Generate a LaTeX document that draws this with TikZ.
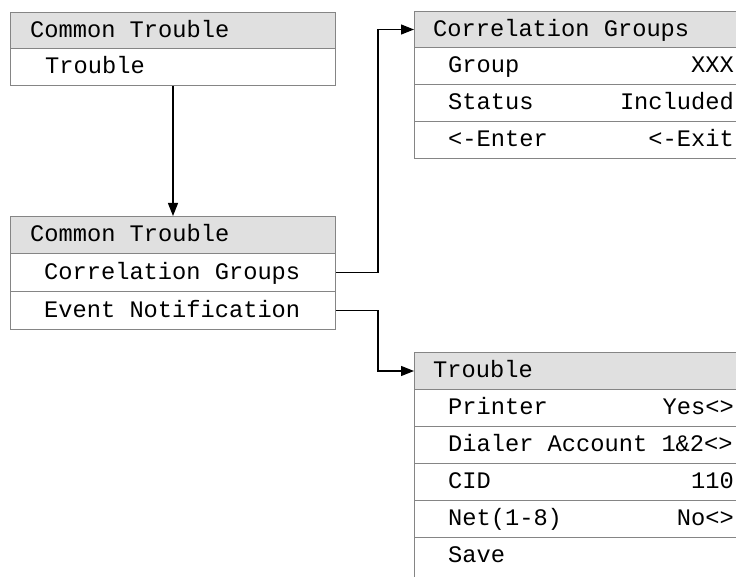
\documentclass[tikz,border=0pt]{standalone}
\usepackage{fontspec}
\newfontfamily\mono{Liberation Mono}
\usetikzlibrary{arrows.meta}
\definecolor{hdrfill}{HTML}{E0E0E0}
\definecolor{bord}{HTML}{858585}
\begin{document}
\begin{tikzpicture}[x=1pt,y=-1pt,
  rowbox/.style={draw=bord, line width=1pt, anchor=north west, minimum width=#1, inner sep=0pt, fill=white},
  hdrrow/.style={rowbox=#1, fill=hdrfill},
  lbl/.style={anchor=west, inner sep=0pt, text height=13.5pt, text depth=0pt, font=\mono\fontsize{23.7}{28}\selectfont},
  val/.style={lbl, anchor=east},
  conn/.style={line width=1.3pt, -{Triangle[length=13pt,width=10pt]}}]
\useasboundingbox (0,0) rectangle (736,577);
% Box 1
\node[hdrrow=325pt, minimum height=36pt] (b1h) at (10,12) {};
\node[rowbox=325pt, minimum height=37pt] (b1r1) at (10,48) {};
\node[lbl] (t1h) at ([xshift=20pt]b1h.west) {Common Trouble};
\node[lbl] (t1r1) at ([xshift=35pt]b1r1.west) {Trouble};
% Box 2
\node[hdrrow=331pt, minimum height=36pt] (b2h) at (414,11) {};
\node[rowbox=331pt, minimum height=37pt] (b2r1) at (414,47) {};
\node[rowbox=331pt, minimum height=37pt] (b2r2) at (414,84) {};
\node[rowbox=331pt, minimum height=37pt] (b2r3) at (414,121) {};
\node[lbl] (t2h) at ([xshift=19pt]b2h.west) {Correlation Groups};
\node[lbl] (t2r1) at ([xshift=34pt]b2r1.west) {Group};
\node[val] (v2r1) at ([xshift=-12pt]b2r1.east) {XXX};
\node[lbl] (t2r2) at ([xshift=34pt]b2r2.west) {Status};
\node[val] (v2r2) at ([xshift=-12pt]b2r2.east) {Included};
\node[lbl] (t2r3) at ([xshift=34pt]b2r3.west) {<-Enter};
\node[val] (v2r3) at ([xshift=-12pt]b2r3.east) {<-Exit};
% Box 3
\node[hdrrow=325pt, minimum height=37pt] (b3h) at (10,216) {};
\node[rowbox=325pt, minimum height=38pt] (b3r1) at (10,253) {};
\node[rowbox=325pt, minimum height=38pt] (b3r2) at (10,291) {};
\node[lbl] (t3h) at ([xshift=20pt]b3h.west) {Common Trouble};
\node[lbl] (t3r1) at ([xshift=34pt]b3r1.west) {Correlation Groups};
\node[lbl] (t3r2) at ([xshift=34pt]b3r2.west) {Event Notification};
% Box 4
\node[hdrrow=331pt, minimum height=37pt] (b4h) at (414,352) {};
\node[rowbox=331pt, minimum height=37pt] (b4r1) at (414,389) {};
\node[rowbox=331pt, minimum height=37pt] (b4r2) at (414,426) {};
\node[rowbox=331pt, minimum height=37pt] (b4r3) at (414,463) {};
\node[rowbox=331pt, minimum height=37pt] (b4r4) at (414,500) {};
\node[rowbox=331pt, minimum height=60pt] (b4r5) at (414,537) {};
\node[lbl] (t4h) at ([xshift=19pt]b4h.west) {Trouble};
\node[lbl] (t4r1) at ([xshift=34pt]b4r1.west) {Printer};
\node[val] (v4r1) at ([xshift=-12pt]b4r1.east) {Yes<>};
\node[lbl] (t4r2) at ([xshift=34pt]b4r2.west) {Dialer Account 1\&2<>};
\node[lbl] (t4r3) at ([xshift=34pt]b4r3.west) {CID};
\node[val] (v4r3) at ([xshift=-12pt]b4r3.east) {110};
\node[lbl] (t4r4) at ([xshift=34pt]b4r4.west) {Net(1-8)};
\node[val] (v4r4) at ([xshift=-12pt]b4r4.east) {No<>};
\node[lbl] (t4r5) at ([xshift=34pt,yshift=-18.5pt]b4r5.north west) {Save};
% Connectors
\draw[conn] (b1r1.south) -- (b3h.north);
\draw[conn] (b3r1.east) -- ++(42,0) |- (b2h.west);
\draw[conn] (b3r2.east) -- ++(42,0) |- (b4h.west);
\end{tikzpicture}
\end{document}
